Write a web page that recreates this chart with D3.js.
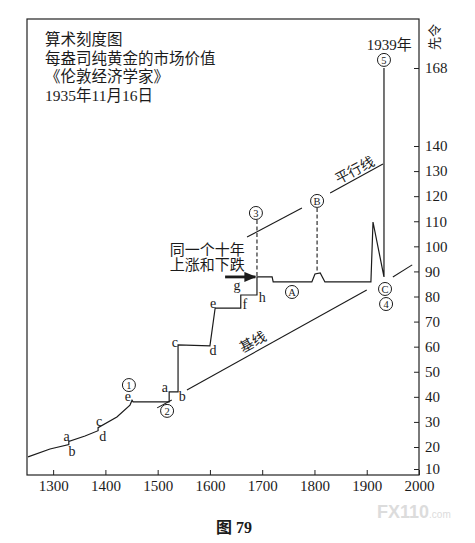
<!DOCTYPE html>
<html>
<head>
  <meta charset="utf-8">
  <title>算术刻度图</title>
  <style>
    body { margin: 0; background: #fff; }
    svg text { font-family: 'Liberation Serif', 'Noto Sans CJK SC', serif; fill: #1b1b1b; }
  </style>
</head>
<body>
  <div class="chart-container"></div>
  <script src="https://cdn.jsdelivr.net/npm/d3@7"></script>
  <script>
    var titleLines = ['算术刻度图', '每盎司纯黄金的市场价值', '《伦敦经济学家》', '1935年11月16日'];
    var xTicks = [1300, 1400, 1500, 1600, 1700, 1800, 1900, 2000];
    var yTicks = [10, 20, 30, 40, 50, 60, 70, 80, 90, 100, 110, 120, 130, 140, 168];

    // gold price, shillings per fine ounce
    var priceYears = [1252, 1294, 1330, 1330, 1361, 1386, 1386, 1422, 1447, 1451, 1453, 1522, 1522, 1539, 1539,
      1600, 1610, 1659, 1659, 1690, 1690, 1719, 1721, 1795, 1801, 1811, 1820, 1908, 1912, 1933, 1933];
    var priceValues = [15.5, 19.1, 21.0, 22.2, 24.4, 26.5, 27.7, 32.0, 36.7, 38.6, 38.0, 38.0, 42.0, 42.0, 60.7,
      60.3, 75.4, 75.4, 80.6, 80.6, 87.8, 87.8, 85.8, 85.8, 89.0, 89.4, 85.8, 85.8, 109.7, 87.8, 168];

    // base line and parallel line, drawn in pieces (gaps around labels)
    var baseYears = [[1499, 1527], [1556, 1900], [1950, 1987]];
    var baseValues = [[35.6, 38.7], [42.7, 82.6], [87.8, 92.6]];
    var parallelYears = [[1671, 1776], [1830, 1931]];
    var parallelValues = [[103.7, 115.3], [121.3, 132.8]];

    // dashed drop lines under 3 and B
    var dropYears = [1690, 1805];
    var dropTop = [110.5, 115.3];
    var dropBottom = [87.8, 89.4];

    // circled markers
    var markerText = ['1', '2', '3', '4', '5', 'A', 'B', 'C'];
    var markerYears = [1445, 1518, 1688, 1937, 1933, 1757, 1805, 1935];
    var markerValues = [44.7, 34.4, 113.3, 77.0, 170.9, 81.8, 118.1, 83.0];

    // small letters along the price line
    var letterText = ['a', 'b', 'c', 'd', 'e', 'a', 'b', 'c', 'd', 'e', 'f', 'g', 'h'];
    var letterYears = [1326, 1336, 1388, 1395, 1443, 1514, 1547, 1533, 1606, 1606, 1667, 1652, 1700];
    var letterValues = [24.0, 17.7, 30.0, 24.0, 39.9, 43.5, 39.9, 61.5, 58.3, 77.0, 76.6, 84.2, 79.4];

    var width = 475, height = 543;
    var plotTop = 19, plotBottom = 475;

    var svg = d3.select('.chart-container').append('svg')
      .attr('width', width)
      .attr('height', height);

    var x = d3.scaleLinear().domain([1250, 2000]).range([27, 419]);
    var y = d3.scaleLinear().domain([10, 20, 140, 168]).range([469, 447, 146, 68]);

    svg.append('defs').append('marker')
      .attr('id', 'arrow')
      .attr('markerUnits', 'userSpaceOnUse')
      .attr('markerWidth', 12)
      .attr('markerHeight', 10)
      .attr('refX', 11)
      .attr('refY', 5)
      .attr('orient', 'auto')
      .append('path')
      .attr('d', 'M0,0L12,5L0,10Z')
      .attr('fill', '#1b1b1b');

    // frame
    svg.append('rect')
      .attr('x', x.range()[0])
      .attr('y', plotTop)
      .attr('width', x.range()[1] - x.range()[0])
      .attr('height', plotBottom - plotTop)
      .attr('fill', 'none')
      .attr('stroke', '#222')
      .attr('stroke-width', 1.2);

    var xAxis = d3.axisBottom(x).tickValues(xTicks).tickSizeInner(-5).tickSizeOuter(0).tickPadding(5)
      .tickFormat(d3.format('d'));
    var gx = svg.append('g')
      .attr('transform', 'translate(0,' + plotBottom + ')')
      .call(xAxis);
    gx.select('.domain').remove();

    var yAxis = d3.axisRight(y).tickValues(yTicks).tickSizeInner(-5).tickSizeOuter(0).tickPadding(6);
    var gy = svg.append('g')
      .attr('transform', 'translate(' + x.range()[1] + ',0)')
      .call(yAxis);
    gy.select('.domain').remove();

    svg.selectAll('.tick line').attr('stroke', '#222');
    svg.selectAll('.tick text')
      .attr('font-size', 15);

    // unit label
    svg.append('text')
      .attr('transform', 'translate(439,50) rotate(-90)')
      .attr('font-size', 13)
      .text('先令');

    // title block
    svg.append('g').selectAll('text')
      .data(titleLines)
      .enter().append('text')
      .attr('x', 45)
      .attr('y', function (d, i) { return 45 + i * 18.5; })
      .attr('font-size', 15.5)
      .text(function (d) { return d; });

    var line = d3.line()
      .x(function (d) { return x(d[0]); })
      .y(function (d) { return y(d[1]); });

    // price line
    svg.append('path')
      .attr('d', line(d3.zip(priceYears, priceValues)))
      .attr('fill', 'none')
      .attr('stroke', '#1b1b1b')
      .attr('stroke-width', 1.2)
      .attr('stroke-linejoin', 'miter');

    // trend lines
    var trend = baseYears.map(function (yrs, i) { return d3.zip(yrs, baseValues[i]); })
      .concat(parallelYears.map(function (yrs, i) { return d3.zip(yrs, parallelValues[i]); }));
    svg.append('g').selectAll('path')
      .data(trend)
      .enter().append('path')
      .attr('d', line)
      .attr('fill', 'none')
      .attr('stroke', '#1b1b1b')
      .attr('stroke-width', 1.1);

    // dashed drops
    svg.append('g').selectAll('line')
      .data(dropYears)
      .enter().append('line')
      .attr('x1', function (d) { return x(d); })
      .attr('x2', function (d) { return x(d); })
      .attr('y1', function (d, i) { return y(dropTop[i]); })
      .attr('y2', function (d, i) { return y(dropBottom[i]); })
      .attr('stroke', '#1b1b1b')
      .attr('stroke-width', 1.1)
      .attr('stroke-dasharray', '4,2.5');

    // circled markers
    var mk = svg.append('g').selectAll('g')
      .data(markerText)
      .enter().append('g')
      .attr('transform', function (d, i) {
        return 'translate(' + x(markerYears[i]) + ',' + y(markerValues[i]) + ')';
      });
    mk.append('circle')
      .attr('r', 6.5)
      .attr('fill', 'none')
      .attr('stroke', '#1b1b1b')
      .attr('stroke-width', 1);
    mk.append('text')
      .attr('text-anchor', 'middle')
      .attr('dy', '0.35em')
      .attr('font-size', 10.5)
      .text(function (d) { return d; });

    // letters
    svg.append('g').selectAll('text')
      .data(letterText)
      .enter().append('text')
      .attr('x', function (d, i) { return x(letterYears[i]); })
      .attr('y', function (d, i) { return y(letterValues[i]); })
      .attr('dy', '0.3em')
      .attr('text-anchor', 'middle')
      .attr('font-size', 14)
      .text(function (d) { return d; });

    // line names
    svg.append('text')
      .attr('transform', 'translate(' + x(1682) + ',' + y(61.9) + ') rotate(-29)')
      .attr('text-anchor', 'middle')
      .attr('dy', '0.35em')
      .attr('font-size', 14)
      .text('基线');
    svg.append('text')
      .attr('transform', 'translate(' + x(1877) + ',' + y(130.4) + ') rotate(-28)')
      .attr('text-anchor', 'middle')
      .attr('dy', '0.35em')
      .attr('font-size', 14)
      .text('平行线');

    // ten-year note and arrow
    svg.append('text')
      .attr('x', x(1523))
      .attr('y', y(96.6))
      .attr('font-size', 15)
      .text('同一个十年');
    svg.append('text')
      .attr('x', x(1523))
      .attr('y', y(90.6))
      .attr('font-size', 15)
      .text('上涨和下跌');
    svg.append('line')
      .attr('x1', x(1629))
      .attr('x2', x(1687))
      .attr('y1', y(87.8))
      .attr('y2', y(87.8))
      .attr('stroke', '#1b1b1b')
      .attr('stroke-width', 2.8)
      .attr('marker-end', 'url(#arrow)');

    svg.append('text')
      .attr('x', x(1943))
      .attr('y', y(174.5))
      .attr('text-anchor', 'middle')
      .attr('font-size', 15)
      .text('1939年');

    // caption and watermark
    svg.append('text')
      .attr('x', 216)
      .attr('y', 533)
      .attr('font-size', 16)
      .attr('font-weight', 'bold')
      .text('图 79');
    var wm = svg.append('text')
      .attr('x', 377)
      .attr('y', 518)
      .style('font-family', "'Liberation Sans', 'DejaVu Sans', sans-serif")
      .style('fill', '#dcdcdc');
    wm.append('tspan').attr('font-size', 18).attr('font-weight', 'bold').text('FX110');
    wm.append('tspan').attr('font-size', 10).text('.com');
  </script>
</body>
</html>
